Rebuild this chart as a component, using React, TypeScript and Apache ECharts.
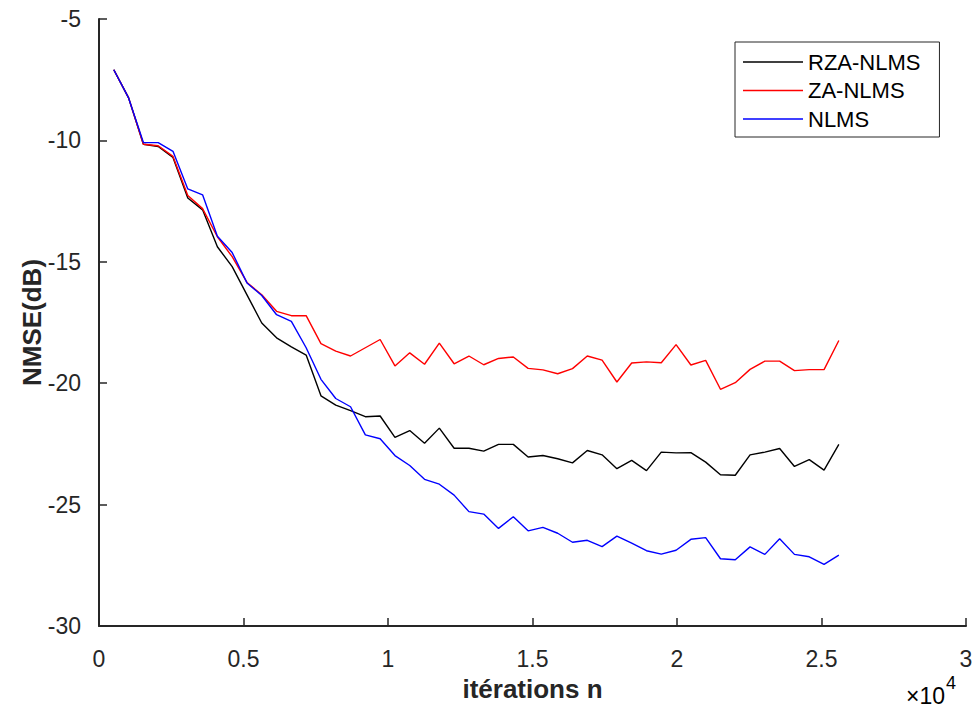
import React, { useEffect, useRef } from "react";
import * as echarts from "echarts";

const iterations = [
  512, 1024, 1536, 2048, 2560, 3072, 3584, 4096, 4608, 5120,
  5632, 6144, 6656, 7168, 7680, 8192, 8704, 9216, 9728, 10240,
  10752, 11264, 11776, 12288, 12800, 13312, 13824, 14336, 14848, 15360,
  15872, 16384, 16896, 17408, 17920, 18432, 18944, 19456, 19968, 20480,
  20992, 21504, 22016, 22528, 23040, 23552, 24064, 24576, 25088, 25600,
];

const rzaNlms = [
  -7.09, -8.25, -10.16, -10.25, -10.7, -12.37, -12.86, -14.38, -15.2, -16.36,
  -17.52, -18.13, -18.5, -18.84, -20.52, -20.9, -21.13, -21.38, -21.35, -22.23,
  -21.95, -22.47, -21.85, -22.68, -22.68, -22.8, -22.52, -22.52, -23.04, -22.98,
  -23.11, -23.28, -22.77, -22.95, -23.52, -23.18, -23.6, -22.84, -22.87, -22.86,
  -23.25, -23.77, -23.79, -22.95, -22.84, -22.69, -23.43, -23.15, -23.58, -22.52,
];

const zaNlms = [
  -7.09, -8.25, -10.16, -10.22, -10.66, -12.27, -12.81, -13.97, -14.79, -15.85,
  -16.36, -17.04, -17.22, -17.22, -18.37, -18.68, -18.88, -18.54, -18.2, -19.29,
  -18.75, -19.22, -18.35, -19.2, -18.88, -19.24, -18.98, -18.92, -19.39, -19.45,
  -19.61, -19.4, -18.88, -19.05, -19.95, -19.17, -19.12, -19.16, -18.41, -19.25,
  -19.06, -20.25, -19.98, -19.43, -19.09, -19.09, -19.48, -19.44, -19.44, -18.24,
];

const nlms = [
  -7.09, -8.25, -10.09, -10.09, -10.45, -12.0, -12.24, -13.95, -14.62, -15.87,
  -16.39, -17.18, -17.45, -18.54, -19.84, -20.63, -20.97, -22.13, -22.29, -22.98,
  -23.39, -23.96, -24.16, -24.61, -25.29, -25.39, -25.98, -25.5, -26.08, -25.94,
  -26.18, -26.55, -26.47, -26.73, -26.3, -26.59, -26.9, -27.04, -26.88, -26.43,
  -26.36, -27.23, -27.27, -26.74, -27.05, -26.41, -27.05, -27.15, -27.46, -27.08,
];

const seriesNames = ["RZA-NLMS", "ZA-NLMS", "NLMS"];
const seriesColors = ["#000000", "#ff0000", "#0000ff"];
const seriesValues = [rzaNlms, zaNlms, nlms];

const FONT = "'Liberation Sans', Arial, Helvetica, sans-serif";
const AXIS_COLOR = "#262626";

export default function App() {
  const ref = useRef<HTMLDivElement>(null);

  useEffect(() => {
    if (!ref.current) return;
    const chart = echarts.init(ref.current, undefined, { renderer: "svg" });
    const option = {
      animation: false,
      backgroundColor: "#ffffff",
      textStyle: { fontFamily: FONT },
      grid: { left: 99, top: 19, right: 12, bottom: 77, containLabel: false },
      legend: {
        data: seriesNames,
        orient: "vertical",
        left: 735,
        top: 42,
        padding: [9, 19, 7, 8],
        icon: "rect",
        itemWidth: 60,
        itemHeight: 1.4,
        itemGap: 6.5,
        itemTextGap: 7,
        borderColor: AXIS_COLOR,
        borderWidth: 1,
        backgroundColor: "#ffffff",
        textStyle: { fontFamily: FONT, fontSize: 22, color: "#000000", lineHeight: 22 },
      },
      xAxis: {
        type: "value",
        min: 0,
        max: 30000,
        interval: 5000,
        name: "itérations n",
        nameLocation: "middle",
        nameGap: 50,
        nameMoveOverlap: false,
        nameTextStyle: { fontFamily: FONT, fontSize: 26, fontWeight: "bold", color: "#262626" },
        axisLine: { show: true, onZero: false, lineStyle: { color: AXIS_COLOR, width: 2 } },
        axisTick: { show: true, inside: true, length: 8, lineStyle: { color: AXIS_COLOR, width: 1.5 } },
        axisLabel: {
          fontFamily: FONT,
          fontSize: 23,
          color: "#262626",
          margin: 21,
          formatter: (v: number) => String(v / 10000),
        },
        splitLine: { show: false },
      },
      yAxis: {
        type: "value",
        min: -30,
        max: -5,
        interval: 5,
        name: "NMSE(dB)",
        nameLocation: "middle",
        nameGap: 54,
        nameMoveOverlap: false,
        nameRotate: 90,
        nameTextStyle: { fontFamily: FONT, fontSize: 26, fontWeight: "bold", color: "#262626" },
        axisLine: { show: true, onZero: false, lineStyle: { color: AXIS_COLOR, width: 2 } },
        axisTick: { show: true, inside: true, length: 8, lineStyle: { color: AXIS_COLOR, width: 1.5 } },
        axisLabel: { fontFamily: FONT, fontSize: 23, color: "#262626", margin: 18 },
        splitLine: { show: false },
      },
      graphic: [
        {
          type: "text",
          right: 22,
          top: 674,
          style: {
            text: "{a|×10}{b|4}",
            rich: {
              a: { fontFamily: FONT, fontSize: 23, color: "#262626", verticalAlign: "bottom", padding: [10, 0, 0, 0] },
              b: { fontFamily: FONT, fontSize: 18, color: "#262626", verticalAlign: "top", padding: [0, 0, 10, 1] },
            },
          },
        },
      ],
      series: seriesNames.map((name, i) => ({
        name,
        type: "line",
        symbol: "none",
        showSymbol: false,
        data: iterations.map((x, j) => [x, seriesValues[i][j]]),
        lineStyle: { color: seriesColors[i], width: 1.4 },
        itemStyle: { color: seriesColors[i] },
        z: 2 + i,
      })),
    };
    chart.setOption(option as any);
    return () => chart.dispose();
  }, []);

  return (
    <div
      ref={ref}
      style={{ position: "fixed", left: 0, top: 0, width: 978, height: 707, background: "#fff" }}
    />
  );
}
